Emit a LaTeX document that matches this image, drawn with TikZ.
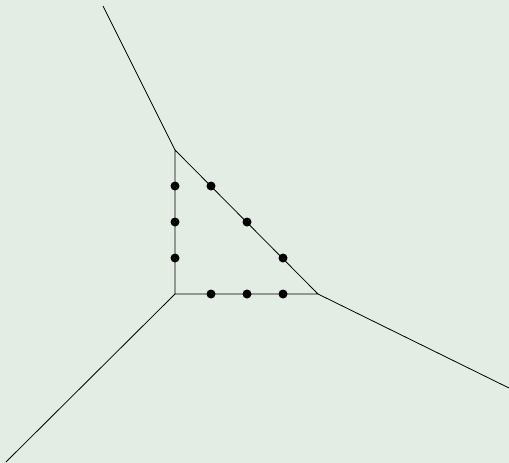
\documentclass[tikz,border=0pt]{standalone}
\definecolor{bg}{RGB}{227,237,228}
\begin{document}
\begin{tikzpicture}[x=1pt,y=-1pt,
  edge/.style={draw=black,line width=0.8pt},
  dot/.style={circle,fill=black,inner sep=0pt,minimum size=9pt}]
\fill[bg] (0,0) rectangle (509,463);
\useasboundingbox (0,0) rectangle (509,463);
\coordinate (A) at (175,150);
\coordinate (B) at (175,294);
\coordinate (C) at (318,294);
\coordinate (a) at (103,6);
\coordinate (b) at (6,462);
\coordinate (c) at (509,388);
\draw[edge] (A) -- (B) -- (C) -- cycle;
\draw[edge] (A) -- (a);
\draw[edge] (B) -- (b);
\draw[edge] (C) -- (c);
\node[dot] (l1) at (175,186) {};
\node[dot] (l2) at (175,222) {};
\node[dot] (l3) at (175,258) {};
\node[dot] (h1) at (211,186) {};
\node[dot] (h2) at (247,222) {};
\node[dot] (h3) at (283,258) {};
\node[dot] (d1) at (211,294) {};
\node[dot] (d2) at (247,294) {};
\node[dot] (d3) at (283,294) {};
\end{tikzpicture}
\end{document}
